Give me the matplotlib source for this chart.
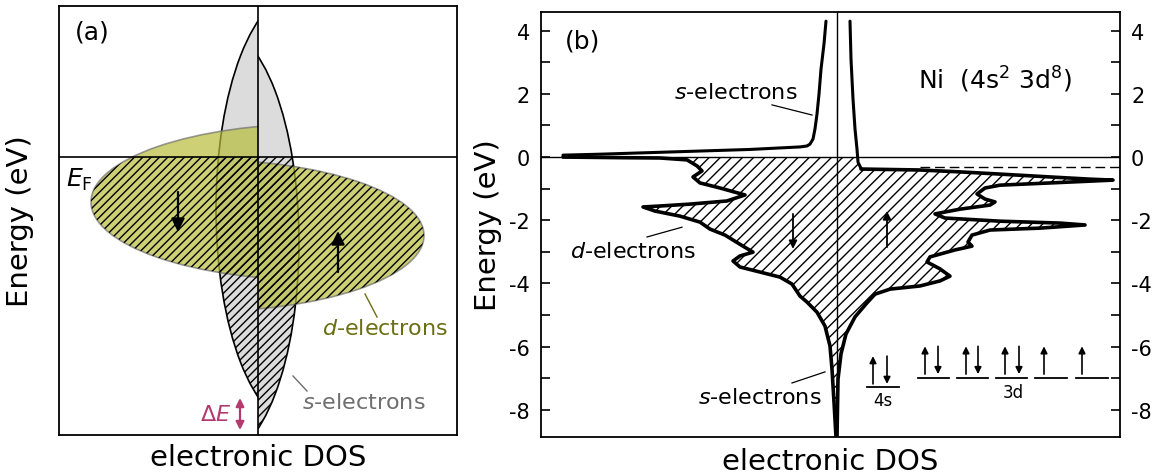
import matplotlib
matplotlib.use('Agg')
import matplotlib.pyplot as plt
from matplotlib.patches import Ellipse, Rectangle, Polygon

plt.rcParams['font.family'] = ['DejaVu Sans']
plt.rcParams['mathtext.fontset'] = 'dejavusans'
plt.rcParams['axes.unicode_minus'] = False
plt.rcParams['hatch.linewidth'] = 1.0

W, H = 1169, 477

# ---------------- panel (b): Ni density of states ----------------
# DOS in arbitrary units (0 = centre line), energy in eV
s_up_dos = [-274, -237, -187, -137, -87, -37, -30, -27, -24, -22, -20, -18, -16, -13, -11]
s_up_E = [0.06, 0.09, 0.14, 0.19, 0.24, 0.32, 0.35, 0.41, 0.57, 0.89, 1.36, 1.99, 2.78, 3.58, 4.30]

s_dn_dos = [13, 14, 16, 18, 20, 21, 24]
s_dn_E = [4.30, 3.10, 1.84, 0.89, 0.25, -0.16, -0.36]

d_dn_dos = [-274, -217, -177, -150, -140, -135, -144, -137, -117, -92, -110, -147, -177, -194,
            -182, -157, -137, -127, -112, -94, -84, -97, -104, -97, -77, -57, -45, -37, -30,
            -20, -12, -7, -5, -3, -1]
d_dn_E = [0.0, -0.02, -0.03, -0.09, -0.28, -0.44, -0.63, -0.82, -0.98, -1.20, -1.39, -1.49,
          -1.55, -1.58, -1.71, -1.87, -2.06, -2.28, -2.47, -2.82, -3.01, -3.13, -3.29, -3.48,
          -3.64, -3.80, -4.02, -4.40, -4.59, -4.91, -5.35, -5.98, -6.71, -7.75, -8.86]

d_up_dos = [24, 83, 123, 163, 213, 253, 276, 213, 163, 148, 140, 148, 158, 153, 123, 98, 108,
            163, 223, 248, 203, 153, 135, 131, 135, 118, 93, 90, 103, 113, 103, 83, 53, 38, 29,
            18, 9, 4, 1, 0]
d_up_E = [-0.38, -0.41, -0.47, -0.54, -0.63, -0.70, -0.73, -0.82, -0.89, -0.98, -1.17, -1.33,
          -1.42, -1.52, -1.65, -1.80, -1.93, -2.03, -2.09, -2.15, -2.25, -2.31, -2.47, -2.69,
          -2.82, -2.94, -3.16, -3.32, -3.54, -3.77, -3.92, -4.08, -4.18, -4.34, -4.65, -5.06,
          -5.60, -6.23, -7.03, -8.86]

dash_dos = [83, 283]
dash_E = [-0.30, -0.30]

energy_ticks = list(range(-8, 5))

# orbital level diagram (4s and 3d)
level_4s = (30, 62, -7.28)
arrows_4s = [(36, 'up'), (50, 'down')]
levels_3d = [(81, 112), (120, 151), (159, 190), (198, 230), (239, 271)]
level_3d_E = -6.99
arrows_3d = [(88, 'up'), (101, 'down'), (129, 'up'), (141, 'down'), (168, 'up'), (182, 'down'),
             (207, 'up'), (245, 'up')]

# ---------------- panel (a): schematic bands (ellipse centre, width, height, side) ----------------
s_bands = [(42, -52, 168, 434, -1), (-41, -85.5, 164, 430, 1)]
d_bands = [(60, -45, 454, 156.6, -1), (-60, -78.5, 452, 152.4, 1)]

fig = plt.figure(figsize=(W / 100, H / 100), dpi=100)

# ---- panel (a) ----
axa = fig.add_axes([59 / W, 1 - 436 / H, 398 / W, 429 / H])
axa.set_xlim(-199, 199)
axa.set_ylim(-278, 151)
axa.set_xticks([])
axa.set_yticks([])
for sp in axa.spines.values():
    sp.set_linewidth(1.3)


def half(ax, side, below=False):
    x0 = -199 if side < 0 else 0
    y1 = 0 if below else 151
    return Rectangle((x0, -278), 199, y1 + 278, transform=ax.transData)


for cx, cy, w, h, side in s_bands:
    e = Ellipse((cx, cy), w, h, fc='#dcdcdc', ec='k', lw=1.2, zorder=1)
    axa.add_patch(e)
    e.set_clip_path(half(axa, side))
for cx, cy, w, h, side in d_bands:
    e = Ellipse((cx, cy), w, h, fc='#b8bd3a', ec='#707070', lw=1.2, alpha=0.7, zorder=2)
    axa.add_patch(e)
    e.set_clip_path(half(axa, side))
for cx, cy, w, h, side in s_bands + d_bands:
    e = Ellipse((cx, cy), w, h, fc='none', ec='k', lw=0, hatch='////', zorder=3)
    axa.add_patch(e)
    e.set_clip_path(half(axa, side, below=True))

axa.axvline(0, color='k', lw=1.2, zorder=4)
axa.axhline(0, color='k', lw=1.2, zorder=4)

arw = dict(arrowstyle='-|>', color='k', lw=1.6, mutation_scale=20, shrinkA=0, shrinkB=0)
axa.annotate('', xy=(-80, -75), xytext=(-80, -35), arrowprops=arw, zorder=5)
axa.annotate('', xy=(80, -74), xytext=(80, -115), arrowprops=arw, zorder=5)

dE_col = '#b23a6e'
axa.annotate('', xy=(-18, -273), xytext=(-18, -241),
             arrowprops=dict(arrowstyle='<|-|>', color=dE_col, lw=1.6, mutation_scale=12,
                             shrinkA=0, shrinkB=0))
axa.text(-27, -257, r'$\Delta E$', color=dE_col, fontsize=16, ha='right', va='center')

axa.text(-166, 125, '(a)', fontsize=18, ha='center', va='center')
axa.text(-192, -22, r'$E_{\rm F}$', fontsize=18, ha='left', va='center')

d_col = '#6b6e12'
axa.plot([107, 119], [-137, -160], color=d_col, lw=1.0)
axa.text(127, -171, r'$d$-electrons', color=d_col, fontsize=16, ha='center', va='center')
s_col = '#6e6e6e'
axa.plot([35, 49], [-219, -234], color=s_col, lw=1.0)
axa.text(106, -245, r'$s$-electrons', color=s_col, fontsize=16, ha='center', va='center')

# ---- panel (b) ----
axb = fig.add_axes([541 / W, 1 - 438 / H, 579 / W, 425 / H])
axb.set_xlim(-296, 283)
axb.set_ylim(-8.86, 4.59)
axb.set_xticks([])
axb.set_yticks(energy_ticks)
axb.set_yticklabels([str(v) if v % 2 == 0 else '' for v in energy_ticks])
axb.tick_params(axis='y', direction='in', length=6.5, width=1.2, left=True, right=True,
                labelleft=True, labelright=True, labelsize=15, pad=8)
for sp in axb.spines.values():
    sp.set_linewidth(1.3)

verts = [(20.5, 0), (-274, 0)] + list(zip(d_dn_dos, d_dn_E)) + \
    list(zip(d_up_dos[::-1], d_up_E[::-1])) + [(21, -0.16)]
axb.add_patch(Polygon(verts, closed=True, fc='none', ec='k', lw=0, hatch='///', zorder=1))

axb.axvline(0, color='k', lw=1.0, zorder=2)
axb.axhline(0, color='k', lw=1.0, zorder=2)
for xs, ys, lw in [(d_dn_dos, d_dn_E, 2.6), (d_up_dos, d_up_E, 2.6),
                   (s_up_dos, s_up_E, 2.2), (s_dn_dos, s_dn_E, 2.2)]:
    axb.plot(xs, ys, color='k', lw=lw, solid_joinstyle='round', solid_capstyle='round', zorder=3)
axb.plot(dash_dos, dash_E, color='k', lw=1.0, ls=(0, (7, 3.5)), zorder=3)

sarw = dict(arrowstyle='-|>', color='k', lw=1.3, mutation_scale=12, shrinkA=0, shrinkB=0)
axb.annotate('', xy=(-44, -2.91), xytext=(-44, -1.80), arrowprops=sarw, zorder=4)
axb.annotate('', xy=(50, -1.71), xytext=(50, -2.85), arrowprops=sarw, zorder=4)

axb.text(-254, 3.70, '(b)', fontsize=18, ha='center', va='center')
axb.text(158, 2.47, r'Ni  (4s$^2$ 3d$^8$)', fontsize=18, ha='center', va='center')

axb.plot([-65, -25], [1.65, 1.33], color='k', lw=0.9)
axb.text(-101, 2.06, r'$s$-electrons', fontsize=16, ha='center', va='center')
axb.plot([-190, -155], [-2.53, -2.22], color='k', lw=0.9)
axb.text(-204, -2.97, r'$d$-electrons', fontsize=16, ha='center', va='center')
axb.plot([-45, -12], [-7.15, -6.80], color='k', lw=0.9)
axb.text(-77, -7.59, r'$s$-electrons', fontsize=16, ha='center', va='center')

larw = dict(arrowstyle='-|>', color='k', lw=1.2, mutation_scale=10, shrinkA=0, shrinkB=0)
x0, x1, e4s = level_4s
axb.plot([x0, x1], [e4s, e4s], color='k', lw=1.3)
for x, d in arrows_4s:
    lo, hi = e4s + 0.1, e4s + 0.98
    a, b = ((x, hi), (x, lo)) if d == 'up' else ((x, lo), (x, hi))
    axb.annotate('', xy=a, xytext=b, arrowprops=larw)
axb.text((x0 + x1) / 2, -7.68, '4s', fontsize=12, ha='center', va='center')

for x0, x1 in levels_3d:
    axb.plot([x0, x1], [level_3d_E, level_3d_E], color='k', lw=1.3)
for x, d in arrows_3d:
    lo, hi = level_3d_E + 0.12, level_3d_E + 1.0
    a, b = ((x, hi), (x, lo)) if d == 'up' else ((x, lo), (x, hi))
    axb.annotate('', xy=a, xytext=b, arrowprops=larw)
axb.text(176, -7.44, '3d', fontsize=12, ha='center', va='center')

# axis labels
fig.text(20 / W, 1 - 221.5 / H, 'Energy (eV)', rotation=90, fontsize=21, ha='center', va='center')
fig.text(258 / W, 1 - 458 / H, 'electronic DOS', fontsize=21, ha='center', va='center')
fig.text(488 / W, 1 - 225.5 / H, 'Energy (eV)', rotation=90, fontsize=21, ha='center', va='center')
fig.text(830 / W, 1 - 462 / H, 'electronic DOS', fontsize=21, ha='center', va='center')

fig.savefig('out.png', dpi=100)
